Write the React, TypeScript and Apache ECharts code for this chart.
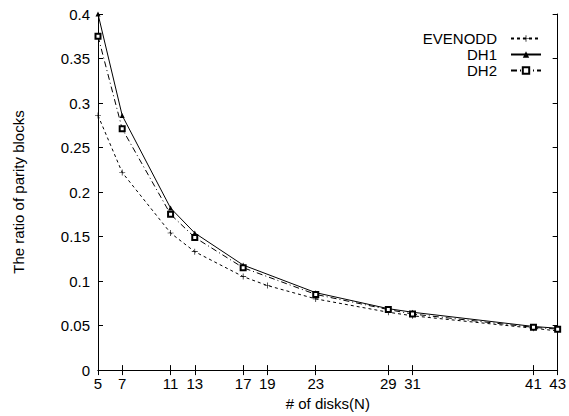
import React, { useEffect, useRef } from "react";
import * as echarts from "echarts";

const xTicks = [5, 7, 11, 13, 17, 19, 23, 29, 31, 41, 43];
const evenoddX = [5, 7, 11, 13, 17, 19, 23, 29, 31, 41, 43];
const evenoddY = [0.286, 0.222, 0.154, 0.133, 0.105, 0.095, 0.08, 0.065, 0.061, 0.047, 0.044];
const dh1X = [5, 7, 11, 13, 17, 23, 29, 31, 41, 43];
const dh1Y = [0.4, 0.286, 0.182, 0.154, 0.118, 0.087, 0.069, 0.065, 0.049, 0.047];
const dh2X = [5, 7, 11, 13, 17, 23, 29, 31, 41, 43];
const dh2Y = [0.375, 0.271, 0.175, 0.149, 0.115, 0.085, 0.068, 0.063, 0.048, 0.046];

const FONT = "Liberation Sans, Arial, Helvetica, sans-serif";
const FS = 15;
const plus = "path://M4,0h1v4h4v1h-4v4h-1v-4h-4v-1h4z";

const zip = (xs: number[], ys: number[]) => xs.map((x, i) => [x, ys[i]]);

export default function App() {
  const ref = useRef<HTMLDivElement>(null);
  useEffect(() => {
    const chart = echarts.init(ref.current!, null, { renderer: "svg" });
    const axisLine = { show: true, lineStyle: { color: "#000", width: 1 } };
    const tickStyle = { show: true, inside: true, length: 5, lineStyle: { color: "#000", width: 1 } };
    chart.setOption({
      animation: false,
      backgroundColor: "#fff",
      textStyle: { fontFamily: FONT },
      grid: { left: 98, right: 9, top: 14, bottom: 44 },
      legend: {
        orient: "vertical",
        right: 22,
        top: 26,
        align: "right",
        itemWidth: 30,
        itemHeight: 8,
        itemGap: 1,
        textStyle: { fontFamily: FONT, fontSize: FS, color: "#000", padding: [0, 9, 0, 0] },
        data: ["EVENODD", "DH1", "DH2"],
      },
      xAxis: [
        {
          type: "value",
          min: 5,
          max: 43,
          name: "# of disks(N)",
          nameLocation: "middle",
          nameGap: 24,
          nameTextStyle: { fontFamily: FONT, fontSize: FS, color: "#000" },
          axisLine,
          axisTick: { ...tickStyle, customValues: xTicks },
          axisLabel: { customValues: xTicks, color: "#000", fontSize: FS, fontFamily: FONT, margin: 6 },
          splitLine: { show: false },
        },
        {
          type: "value",
          min: 5,
          max: 43,
          position: "top",
          axisLine,
          axisTick: { ...tickStyle, customValues: xTicks },
          axisLabel: { show: false },
          splitLine: { show: false },
        },
      ],
      yAxis: [
        {
          type: "value",
          min: 0,
          max: 0.4,
          interval: 0.05,
          name: "The ratio of parity blocks",
          nameLocation: "middle",
          nameGap: 72,
          nameTextStyle: { fontFamily: FONT, fontSize: FS, color: "#000" },
          axisLine,
          axisTick: tickStyle,
          axisLabel: { color: "#000", fontSize: FS, fontFamily: FONT, margin: 8 },
          splitLine: { show: false },
        },
        {
          type: "value",
          min: 0,
          max: 0.4,
          interval: 0.05,
          position: "right",
          axisLine,
          axisTick: tickStyle,
          axisLabel: { show: false },
          splitLine: { show: false },
        },
      ],
      series: [
        {
          name: "EVENODD",
          type: "line",
          data: zip(evenoddX, evenoddY),
          symbol: plus,
          symbolSize: 6,
          itemStyle: { color: "#000" },
          lineStyle: { color: "#000", width: 1, type: [3, 3] },
        },
        {
          name: "DH1",
          type: "line",
          data: zip(dh1X, dh1Y),
          symbol: "triangle",
          symbolSize: 5,
          itemStyle: { color: "#000" },
          lineStyle: { color: "#000", width: 1, type: "solid" },
        },
        {
          name: "DH2",
          type: "line",
          data: zip(dh2X, dh2Y),
          symbol: "emptyRect",
          symbolSize: 5,
          itemStyle: { color: "#000", borderColor: "#000", borderWidth: 0.8 },
          lineStyle: { color: "#000", width: 1, type: [6, 3, 1, 3] },
        },
      ],
    });
    return () => chart.dispose();
  }, []);
  return <div ref={ref} style={{ width: 569, height: 416, position: "absolute", left: 0, top: 0 }} />;
}
